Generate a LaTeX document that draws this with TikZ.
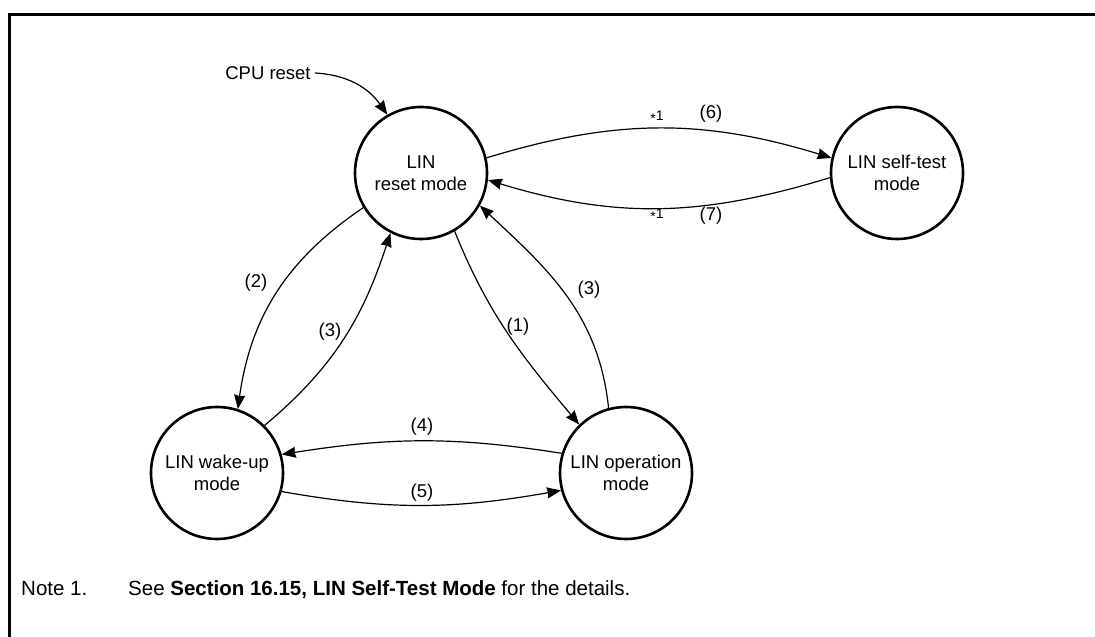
\documentclass[tikz,border=0pt]{standalone}
\usepackage{fontspec}
\setmainfont{Liberation Sans}
\usetikzlibrary{arrows.meta}
\begin{document}
\begin{tikzpicture}[x=1pt,y=1pt,
  every node/.style={font=\fontsize{18.5}{22}\selectfont},
  state/.style={draw, circle, line width=2.6pt, minimum size=132pt, align=center, inner sep=0pt},
  trans/.style={line width=1.2pt, -{Stealth[length=14pt,width=11pt,inset=1pt]}},
  lbl/.style={inner sep=0pt},
  star/.style={inner sep=0pt, font=\fontsize{14}{16}\selectfont},
  notestyle/.style={anchor=base west, inner sep=0pt, font=\fontsize{20.5}{25}\selectfont}]
\useasboundingbox (0,0) rectangle (1095,637);
% frame
\draw[line width=3pt] (9.5,0) -- (9.5,622) -- (1095,622);
% states
\node[state] (reset) at (421,464) {LIN\\reset mode};
\node[state] (self)  at (897,464) {LIN self-test\\mode};
\node[state] (wake)  at (217,164) {LIN wake-up\\mode};
\node[state] (op)    at (626,164) {LIN operation\\mode};
% CPU reset
\node[inner sep=4pt] (cpu) at (268,564) {CPU reset};
\draw[trans] (cpu.east) to[out=-3, in=125] (reset.120);
% (6) and (7)
\draw[trans] (reset.13) to[out=17, in=163] (self.167);
\draw[trans] (self.184) to[out=197, in=-17] (reset.-6);
\node[star] (s6) at (657,520) {\raisebox{-0.22em}{*}1};
\node[lbl]  (l6) at (711,523) {(6)};
\node[star] (s7) at (657,422) {\raisebox{-0.22em}{*}1};
\node[lbl]  (l7) at (711,421) {(7)};
% (2)
\draw[trans] (reset.211) to[out=214, in=82] (wake.72);
\node[lbl] (l2) at (256,354) {(2)};
% (3) left
\draw[trans] (wake.45) to[out=40, in=252] (reset.243);
\node[lbl] (l3a) at (330,305) {(3)};
% (1)
\draw[trans] (reset.-60) to[out=-68, in=130] (op.134);
\node[lbl] (l1) at (518,310) {(1)};
% (3) right
\draw[trans] (op.105) to[out=96, in=-43] (reset.-29);
\node[lbl] (l3b) at (589,347) {(3)};
% (4)
\draw[trans] (op.163) to[out=171, in=9] (wake.16);
\node[lbl] (l4) at (422,210) {(4)};
% (5)
\draw[trans] (wake.-16) to[out=-10, in=190] (op.195);
\node[lbl] (l5) at (422,144) {(5)};
% note
\node[notestyle] (note) at (21,41) {Note 1.};
\node[notestyle] (notetext) at (128,41) {See \textbf{Section 16.15, LIN Self-Test Mode} for the details.};
\end{tikzpicture}
\end{document}
